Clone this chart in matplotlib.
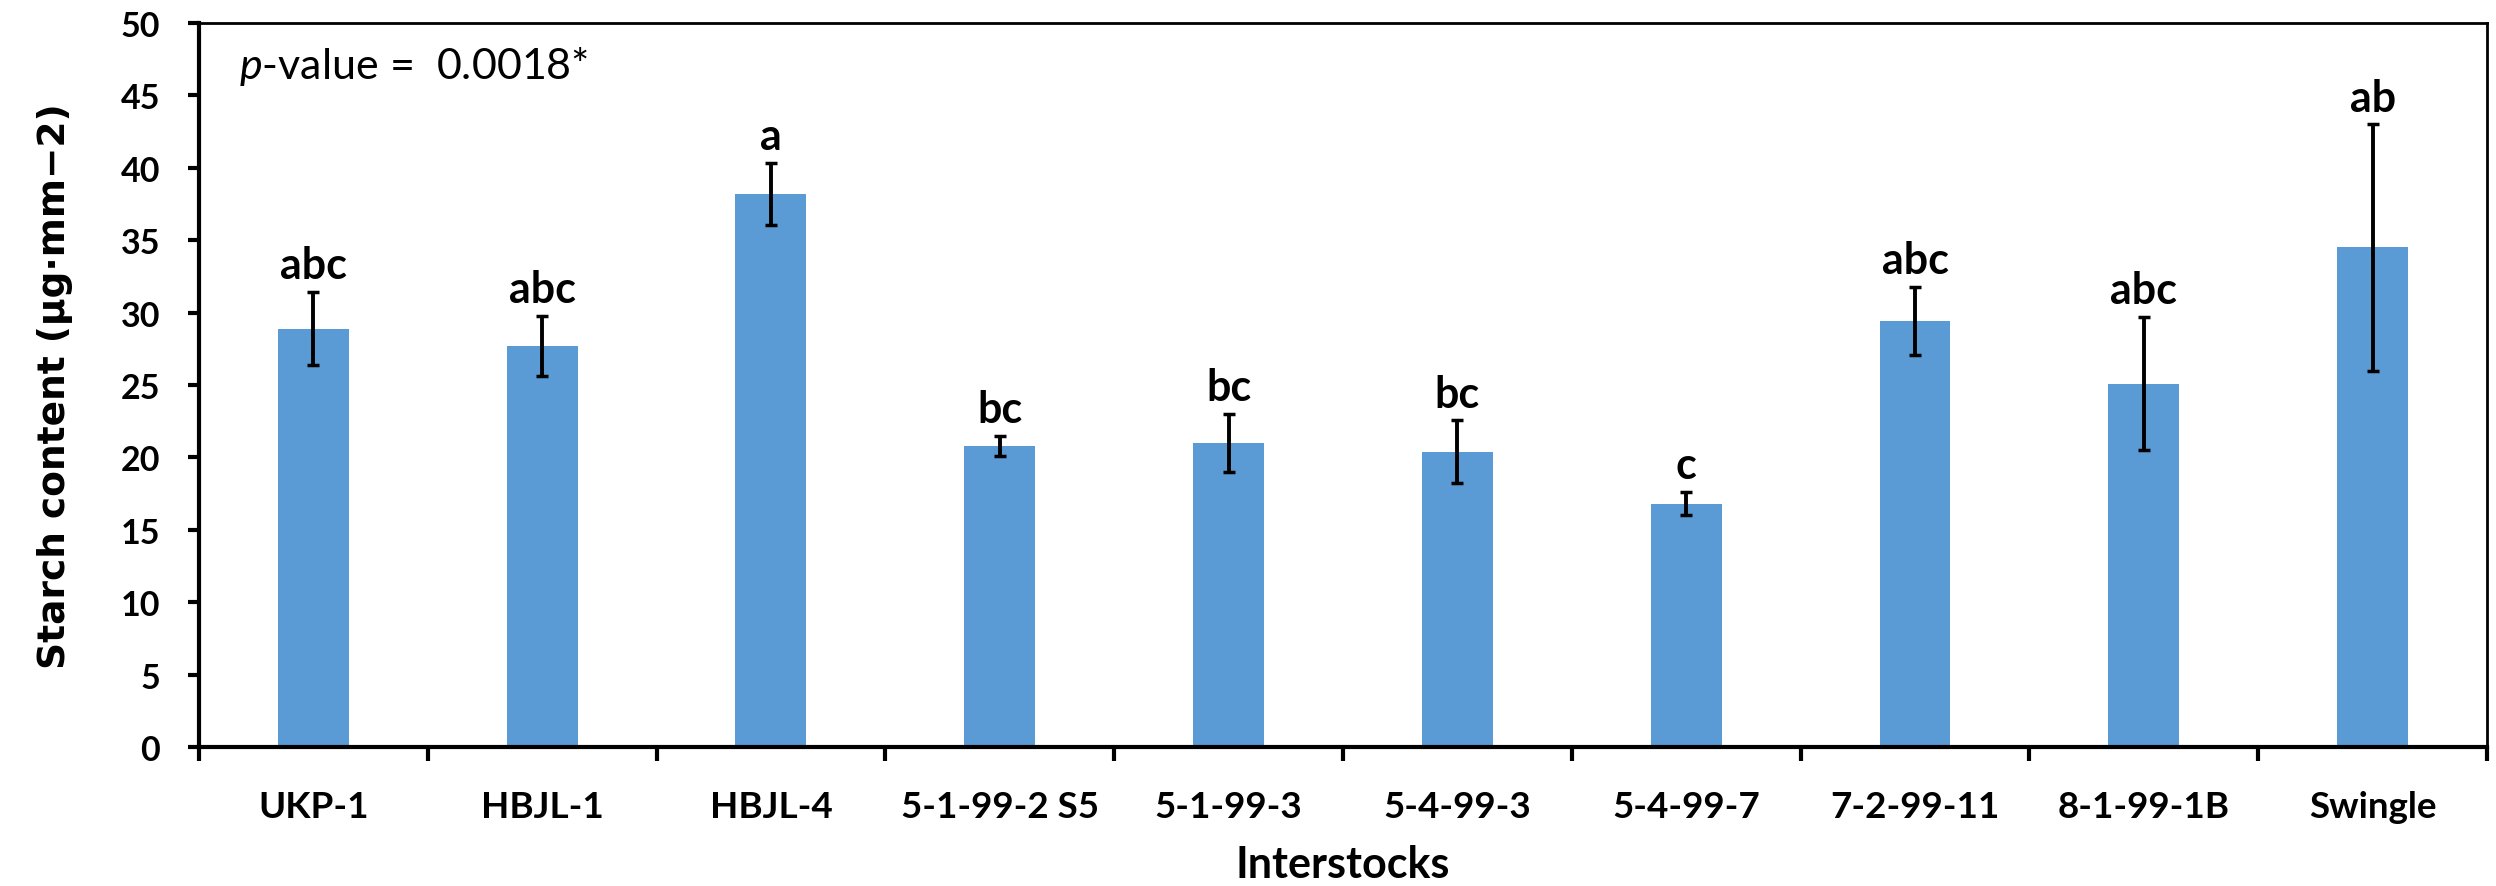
import matplotlib
matplotlib.use('Agg')  # no UI backend

import numpy as np
import matplotlib.pyplot as plt

# data
interstocks = ["UKP-1", "HBJL-1", "HBJL-4", "5-1-99-2 S5", "5-1-99-3",
               "5-4-99-3", "5-4-99-7", "7-2-99-11", "8-1-99-1B", "Swingle"]
starch = [28.9, 27.7, 38.2, 20.8, 21.0, 20.4, 16.8, 29.4, 25.1, 34.5]
starch_err = [2.55, 2.1, 2.15, 0.67, 2.0, 2.15, 0.8, 2.35, 4.6, 8.5]
groups = ["abc", "abc", "a", "bc", "bc", "bc", "c", "abc", "abc", "ab"]
yticks = [0, 5, 10, 15, 20, 25, 30, 35, 40, 45, 50]

plt.rcParams['mathtext.fontset'] = 'custom'
plt.rcParams['mathtext.it'] = 'Lato:italic'
plt.rcParams['mathtext.rm'] = 'Lato'

fig = plt.figure(figsize=(24.96, 8.87), dpi=100)
ax = fig.add_axes([0.0797, 0.1567, 0.9167, 0.8162])

x = np.arange(len(interstocks))
ax.bar(x, starch, width=0.31, color='#5B9BD5', zorder=2)
ax.errorbar(x, starch, yerr=starch_err, fmt='none', ecolor='black',
            elinewidth=2.8, capsize=4.3, capthick=2.5, zorder=3)

for xi, top, lab in zip(x, np.array(starch) + np.array(starch_err), groups):
    ax.annotate(lab, (xi, top), xytext=(0, 10), textcoords='offset points',
                ha='center', va='baseline', fontsize=31, fontweight='bold',
                family='Lato')

ax.text(0.0175, 0.924, r"$\mathit{p}$-value =  0.0018*", transform=ax.transAxes,
        fontsize=31, family='Lato', va='baseline', ha='left')

ax.set_xlim(-0.5, len(interstocks) - 0.5)
ax.set_ylim(0, 50)
ax.set_yticks(yticks)
ax.set_yticklabels([str(v) for v in yticks], fontsize=24.5, fontweight='bold',
                   family='Lato')
ax.set_xticks(x)
ax.set_xticklabels(interstocks, fontsize=26.5, fontweight='bold', family='Lato')
ax.set_xticks(np.arange(-0.5, len(interstocks)), minor=True)
ax.tick_params(axis='x', which='major', length=0, pad=31)
ax.tick_params(axis='x', which='minor', length=10, width=3, direction='out')
ax.tick_params(axis='y', length=8, width=3, direction='out', pad=20)

for side in ['left', 'bottom']:
    ax.spines[side].set_linewidth(3)
for side in ['top', 'right']:
    ax.spines[side].set_linewidth(2)

ax.set_ylabel("Starch content (µg·mm−2)", fontsize=27, fontweight='bold',
              family='DejaVu Sans', labelpad=34)
ax.set_xlabel("Interstocks", fontsize=31, fontweight='bold', family='Lato',
              labelpad=15)

fig.savefig("out.png", dpi=100)
